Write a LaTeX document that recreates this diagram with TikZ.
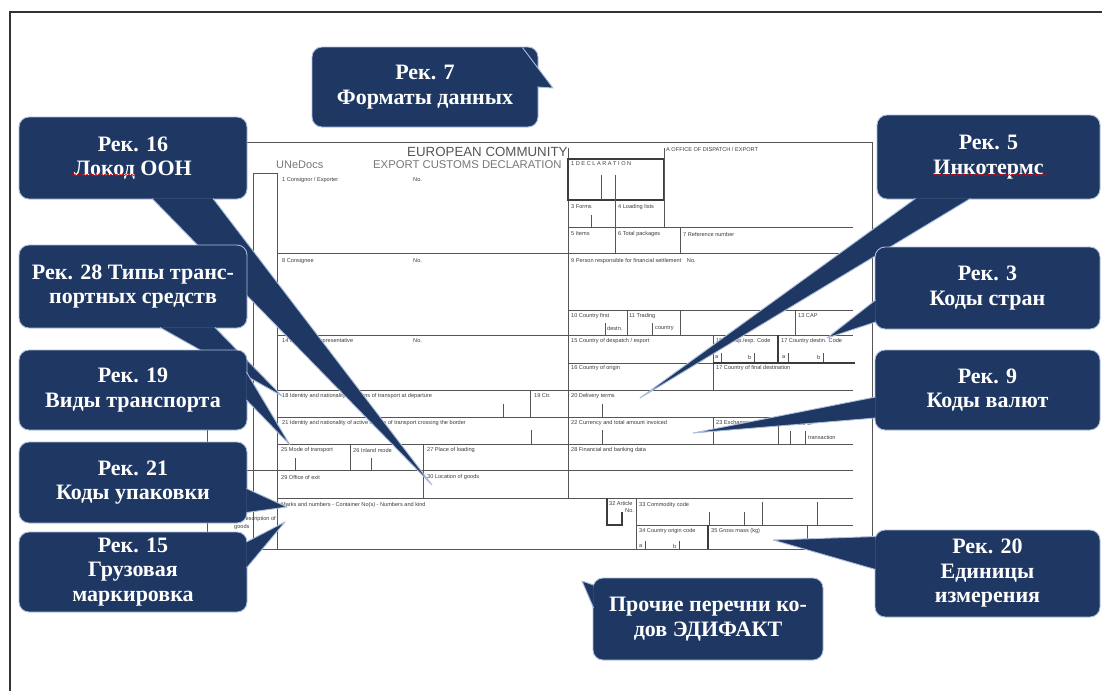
\documentclass[tikz,border=0pt]{standalone}
\usepackage{fontspec}
\setmainfont{Liberation Serif}
\newfontfamily\formfont{Liberation Sans}
\usetikzlibrary{calc,decorations.pathmorphing}
\definecolor{navy}{RGB}{31,56,99}
\definecolor{rim}{RGB}{170,188,220}
\definecolor{ink}{RGB}{60,60,60}
\definecolor{frmgray}{RGB}{85,85,85}

\begin{document}
\begin{tikzpicture}[x=1pt,y=-1pt,
  frm/.style={draw=frmgray, line width=0.9pt},
  thk/.style={draw=frmgray!70!black, line width=1.6pt},
  lab/.style={anchor=west, inner sep=0pt, text=ink, font=\formfont\fontsize{5.6}{6}\selectfont},
  rek/.style={fill=navy, draw=rim, line width=0.9pt, rounded corners=10pt, text=white, align=center,
    inner sep=0pt, minimum width=228pt, minimum height=81pt, font=\bfseries\fontsize{22}{24.5}\selectfont},
  tail/.style={fill=navy, draw=rim, line width=0.9pt, line join=round},
  squig/.style={red!85!black, line width=0.6pt, decorate, decoration={snake, amplitude=0.8pt, segment length=3pt}}]

\useasboundingbox (0,0) rectangle (1102,691);
\fill[white] (0,0) rectangle (1102,691);
\draw[black!80, line width=1.2pt] (10,691) -- (10,12) -- (1102,12);

% the declaration form
\draw[frm] (247,142) -- (872,142) -- (872,549) -- (253,549);
\draw[frm] (253,549) -- (253,173) -- (277,173) -- (277,549);
\draw[frm] (568,148) -- (568,498);
\draw[frm] (207,425) -- (207,545);
\foreach \y in {253,335,390,417,444,498} \draw[frm] (277,\y) -- (853,\y);
\foreach \y in {227,310} \draw[frm] (568,\y) -- (853,\y);
\draw[frm] (568,363) -- (713,363);
\draw[frm] (247,470) -- (853,470);
\draw[frm] (636,525) -- (853,525);
\draw[thk] (568,159) rectangle (664,200);
\draw[frm] (601,175) -- (601,200) (615,175) -- (615,253) (591,215) -- (591,227);
\draw[frm] (664,148) -- (664,227) (680,227) -- (680,253);
\draw[frm] (627,310) -- (627,335) (680,310) -- (680,335) (795,310) -- (795,335);
\draw[frm] (605,323) -- (605,335) (652,323) -- (652,335);
\draw[frm] (713,335) -- (713,390);
\draw[thk] (778,335) -- (778,363) (713,363) -- (855,363);
\foreach \x in {721,754,788,823} \draw[frm, line width=0.6pt] (\x,353) -- (\x,362);
\draw[frm] (530,390) -- (530,417) (503,404) -- (503,417) (602,404) -- (602,417);
\draw[frm] (531,430) -- (531,444) (602,430) -- (602,444) (713,417) -- (713,444);
\draw[frm] (778,423) -- (778,444) (790,431) -- (790,444) (805,431) -- (805,444);
\draw[frm] (350,444) -- (350,470) (423,444) -- (423,498) (295,458) -- (295,470) (371,458) -- (371,470);
\draw[thk] (607,498) -- (607,525) -- (622,525) -- (622,512);
\draw[frm] (636,498) -- (636,549) (709,512) -- (709,525) (744,512) -- (744,525);
\draw[frm] (762,502) -- (762,525) (817,502) -- (817,525) (807,525) -- (807,549);
\draw[thk] (708,525) -- (708,549);
\foreach \x in {645,679} \draw[frm, line width=0.6pt] (\x,541) -- (\x,549);

\node[anchor=west, inner sep=0pt, text=frmgray, font=\formfont\fontsize{13.3}{14}\selectfont] (ec) at (407,152) {EUROPEAN COMMUNITY};
\node[anchor=west, inner sep=0pt, text=ink!70, font=\formfont\fontsize{11.3}{12}\selectfont] (ecd) at (373,165) {EXPORT CUSTOMS DECLARATION};
\node[anchor=west, inner sep=0pt, text=ink!70, font=\formfont\fontsize{11}{12}\selectfont] (und) at (276,165) {UNeDocs};
\node[lab] (f0) at (571,164) {1 D E C L A R A T I O N};
\node[lab] (fa) at (666,149) {A OFFICE OF DISPATCH / EXPORT};
\node[lab] (f1) at (282,180) {1 Consignor / Exporter};
\node[lab] (f1n) at (413,180) {No.};
\node[lab] (f3) at (571,207) {3 Forms};
\node[lab] (f4) at (618,207) {4 Loading lists};
\node[lab] (f5) at (571,234) {5 Items};
\node[lab] (f6) at (618,234) {6 Total packages};
\node[lab] (f7) at (683,234) {7 Reference number};
\node[lab] (f8) at (282,261) {8 Consignee};
\node[lab] (f8n) at (413,261) {No.};
\node[lab] (f9) at (571,261) {9 Person responsible for financial settlement\quad No.};
\node[lab] (f10) at (571,316) {10 Country first};
\node[lab] (f10d) at (607,328) {destn.};
\node[lab] (f11) at (629,316) {11 Trading};
\node[lab] (f11c) at (655,328) {country};
\node[lab] (f13) at (798,316) {13 CAP};
\node[lab] (f14) at (282,341) {14 Declarant/Representative};
\node[lab] (f14n) at (413,341) {No.};
\node[lab] (f15) at (571,341) {15 Country of despatch / export};
\node[lab] (f15c) at (716,341) {15 C. disp./exp. Code};
\node[lab] (f17c) at (781,341) {17 Country destin. Code};
\node[lab] (fa1) at (715,357) {a};
\node[lab] (fb1) at (748,357) {b};
\node[lab] (fa2) at (782,357) {a};
\node[lab] (fb2) at (817,357) {b};
\node[lab] (f16) at (571,368) {16 Country of origin};
\node[lab] (f17) at (716,368) {17 Country of final destination};
\node[lab] (f18) at (282,396) {18 Identity and nationality of means of transport at departure};
\node[lab] (f19) at (534,396) {19 Ctr.};
\node[lab] (f20) at (571,396) {20 Delivery terms};
\node[lab] (f21) at (282,423) {21 Identity and nationality of active means of transport crossing the border};
\node[lab] (f22) at (571,423) {22 Currency and total amount invoiced};
\node[lab] (f23) at (716,423) {23 Exchange rate};
\node[lab] (f24) at (781,423) {24 Nature of};
\node[lab] (f24t) at (808,437) {transaction};
\node[lab] (f25) at (281,450) {25 Mode of transport};
\node[lab] (f26) at (353,450) {26 Inland mode};
\node[lab] (f27) at (427,450) {27 Place of loading};
\node[lab] (f28) at (571,450) {28 Financial and banking data};
\node[lab] (f29) at (281,477) {29 Office of exit};
\node[lab] (f30) at (427,477) {30 Location of goods};
\node[lab] (f31) at (281,505) {Marks and numbers - Container No(s) - Numbers and kind};
\node[lab, anchor=east] (f31d) at (276,519) {description of};
\node[lab] (f31g) at (234,527) {goods};
\node[lab] (f32) at (609,503) {32 Article};
\node[lab] (f32n) at (625,511) {No.};
\node[lab] (f33) at (639,505) {33 Commodity code};
\node[lab] (f34) at (639,531) {34 Country origin code};
\node[lab] (f35) at (711,531) {35 Gross mass (kg)};
\node[lab] (fa3) at (639,546) {a};
\node[lab] (fb3) at (673,546) {b};

% tips of the callouts
\coordinate (t7) at (553,88);
\coordinate (t16) at (432,485);
\coordinate (t28) at (282,396);
\coordinate (t19) at (290,445);
\coordinate (t21) at (287,507);
\coordinate (t15) at (285,522);
\coordinate (t5) at (640,398);
\coordinate (t3) at (827,338);
\coordinate (t9) at (693,433);
\coordinate (t20) at (773,540);
\coordinate (tpr) at (582,581);

% callouts
\node[rek, minimum width=226pt, minimum height=80pt] (r7) at (425,87) {Рек. 7\\Форматы данных};
\filldraw[tail] ([xshift=-16pt,yshift=-1pt]r7.north east) -- (t7) -- ([xshift=-1pt]r7.east);

\node[rek, minimum height=82pt] (r16) at (133,158) {Рек. 16\\Локод ООН};
\filldraw[tail] ([xshift=19pt,yshift=1pt]r16.south) -- (t16) -- ([xshift=80pt,yshift=1pt]r16.south);
\draw[squig] ([xshift=-62pt,yshift=-17pt]r16.center) -- ([xshift=2pt,yshift=-17pt]r16.center);

\node[rek, minimum height=83pt] (r28) at (133,286.5) {Рек. 28 Типы транс-\\портных средств};
\filldraw[tail] ([xshift=27pt,yshift=1pt]r28.south) -- (t28) -- ([xshift=82pt,yshift=1pt]r28.south);

\node[rek, minimum height=80pt] (r19) at (133,390) {Рек. 19\\Виды транспорта};
\filldraw[tail] ([xshift=-1pt,yshift=18pt]r19.east) -- (t19) -- ([xshift=-1pt,yshift=-10pt]r19.east);

\node[rek] (r21) at (133,482.5) {Рек. 21\\Коды упаковки};
\filldraw[tail] ([xshift=-1pt,yshift=-6pt]r21.east) -- (t21) -- ([xshift=-1pt,yshift=-30pt]r21.east);

\node[rek, minimum height=80pt] (r15) at (133,572) {Рек. 15\\Грузовая\\маркировка};
\filldraw[tail] ([xshift=-1pt,yshift=30pt]r15.east) -- (t15) -- ([xshift=-1pt,yshift=4pt]r15.east);

\node[rek, minimum width=223pt, minimum height=84pt] (r5) at (988.5,157) {Рек. 5\\Инкотермс};
\filldraw[tail] ([xshift=-73pt,yshift=1pt]r5.south) -- (t5) -- ([xshift=-18pt,yshift=1pt]r5.south);
\draw[squig] ([xshift=-55pt,yshift=-18pt]r5.center) -- ([xshift=58pt,yshift=-18pt]r5.center);

\node[rek, minimum width=225pt, minimum height=82pt] (r3) at (987.5,288) {Рек. 3\\Коды стран};
\filldraw[tail] ([xshift=1pt,yshift=-12pt]r3.west) -- (t3) -- ([xshift=1pt,yshift=-34pt]r3.west);

\node[rek, minimum width=225pt, minimum height=80pt] (r9) at (987.5,390) {Рек. 9\\Коды валют};
\filldraw[tail] ([xshift=1pt,yshift=-7pt]r9.west) -- (t9) -- ([xshift=1pt,yshift=-28pt]r9.west);

\node[rek, minimum width=225pt, minimum height=87pt] (r20) at (987.5,573.5) {Рек. 20\\Единицы\\измерения};
\filldraw[tail] ([xshift=1pt,yshift=37pt]r20.west) -- (t20) -- ([xshift=1pt,yshift=4pt]r20.west);

\node[rek, minimum width=230pt, minimum height=82pt] (rpr) at (708,619) {Прочие перечни ко-\\дов ЭДИФАКТ};
\filldraw[tail] ([xshift=1pt,yshift=34pt]rpr.west) -- (tpr) -- ([xshift=1pt,yshift=11pt]rpr.west);

\end{tikzpicture}
\end{document}
